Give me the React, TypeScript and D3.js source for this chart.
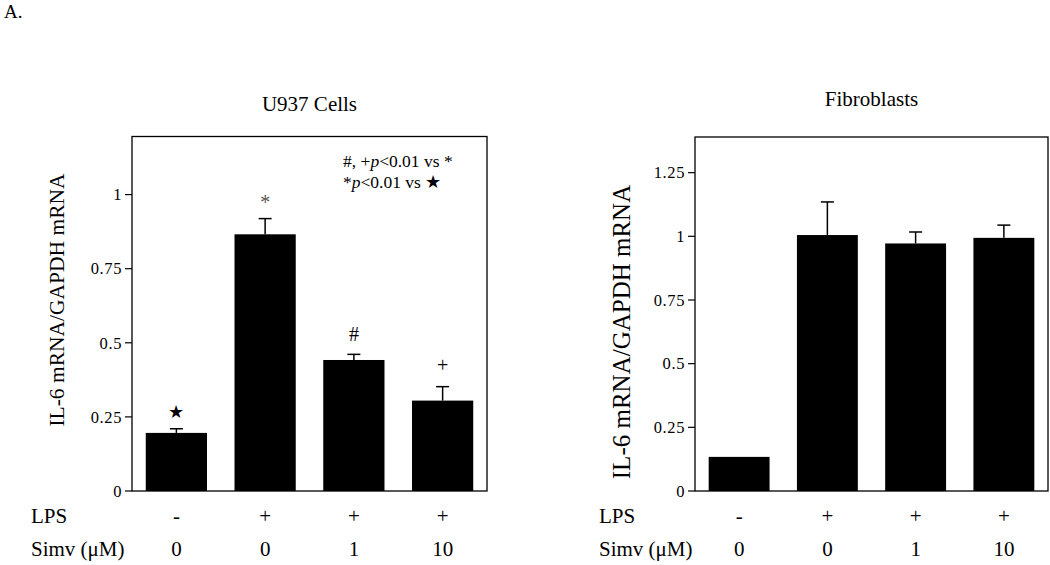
import React from "react";
import * as d3 from "d3";

const groups = ["g1", "g2", "g3", "g4"];
const lpsLabels = ["-", "+", "+", "+"];
const simvLabels = ["0", "0", "1", "10"];

const u937Values = [0.196, 0.866, 0.442, 0.305];
const u937ErrTop = [0.21, 0.919, 0.461, 0.352];
const u937Marks = ["★", "*", "#", "+"];
const u937Ticks = [0, 0.25, 0.5, 0.75, 1];

const fibroValues = [0.134, 1.005, 0.972, 0.994];
const fibroErrTop = [0.134, 1.135, 1.017, 1.044];
const fibroTicks = [0, 0.25, 0.5, 0.75, 1, 1.25];

const FONT = "\"Liberation Serif\", \"Times New Roman\", \"DejaVu Serif\", serif";
const fs = (size: number, extra: React.CSSProperties = {}): React.CSSProperties => ({ fontFamily: FONT, fontSize: size, ...extra });

type PanelProps = {
  title: string;
  titleY: number;
  x0: number;
  x1: number;
  yTop: number;
  yBottom: number;
  yMax: number;
  values: number[];
  errTop: number[];
  ticks: number[];
  marks?: string[];
  ylabel: string;
  ylabelX: number;
  ylabelY: number;
  ylabelSize: number;
  rowLabelX: number;
};

function Panel(p: PanelProps) {
  const x = d3.scaleBand<string>().domain(groups).range([p.x0, p.x1]).paddingInner(0.31).paddingOuter(0.155);
  const y = d3.scaleLinear().domain([0, p.yMax]).range([p.yBottom, p.yTop]);
  const fmt = (v: number) => (v === 0 ? "0" : String(v));
  const bw = x.bandwidth();
  const markOffsets = [17, 17, 20, 22];
  return (
    <g>
      <text x={(p.x0 + p.x1) / 2} y={p.titleY} textAnchor="middle" style={fs(21)}>
        {p.title}
      </text>
      {groups.map((g, i) => (
        <rect key={g} x={x(g)} y={y(p.values[i])} width={bw} height={y(0) - y(p.values[i])} fill="#000" />
      ))}
      {groups.map((g, i) =>
        p.errTop[i] > p.values[i] + 0.001 ? (
          <g key={"e" + g} stroke="#000" strokeWidth={1.5}>
            <line x1={x(g)! + bw / 2} x2={x(g)! + bw / 2} y1={y(p.values[i])} y2={y(p.errTop[i])} />
            <line x1={x(g)! + bw / 2 - 6.5} x2={x(g)! + bw / 2 + 6.5} y1={y(p.errTop[i])} y2={y(p.errTop[i])} />
          </g>
        ) : null
      )}
      {p.marks &&
        groups.map((g, i) => (
          <text
            key={"m" + g}
            x={x(g)! + bw / 2}
            y={y(p.errTop[i]) - markOffsets[i]}
            textAnchor="middle"
            dominantBaseline="central"
            style={fs(i === 0 ? 18 : 20)}
            fill={i === 1 ? "#555" : "#000"}
          >
            {p.marks![i]}
          </text>
        ))}
      <rect x={p.x0} y={p.yTop} width={p.x1 - p.x0} height={p.yBottom - p.yTop} fill="none" stroke="#000" strokeWidth={1.3} />
      {p.ticks.map((t) => (
        <g key={"t" + t}>
          <line x1={p.x0 - 7} x2={p.x0} y1={y(t)} y2={y(t)} stroke="#000" strokeWidth={1.2} />
          <text x={p.x0 - 10} y={y(t)} dy="0.35em" textAnchor="end" style={fs(16.5, { letterSpacing: 0.6 })}>
            {fmt(t)}
          </text>
        </g>
      ))}
      <text
        transform={`translate(${p.ylabelX},${p.ylabelY}) rotate(-90)`}
        textAnchor="middle"
        dominantBaseline="central"
        style={fs(p.ylabelSize)}
      >
        {p.ylabel}
      </text>
      <text x={p.rowLabelX} y={523} style={fs(21)}>LPS</text>
      <text x={p.rowLabelX} y={556} style={fs(21)}>Simv (μM)</text>
      {groups.map((g, i) => (
        <g key={"r" + g}>
          <text x={x(g)! + bw / 2} y={523} textAnchor="middle" style={fs(21)}>
            {lpsLabels[i]}
          </text>
          <text x={x(g)! + bw / 2} y={556} textAnchor="middle" style={fs(21)}>
            {simvLabels[i]}
          </text>
        </g>
      ))}
    </g>
  );
}

export default function App() {
  return (
    <svg width={1050} height={565} style={{ position: "absolute", left: 0, top: 0, background: "#fff" }}>
      <rect x={0} y={0} width={1050} height={565} fill="#fff" />
      <text x={4} y={18} style={fs(19)}>A.</text>
      <Panel
        title="U937 Cells"
        titleY={111}
        x0={132}
        x1={487}
        yTop={136.5}
        yBottom={491}
        yMax={1.196}
        values={u937Values}
        errTop={u937ErrTop}
        ticks={u937Ticks}
        marks={u937Marks}
        ylabel="IL-6 mRNA/GAPDH mRNA"
        ylabelX={57}
        ylabelY={300}
        ylabelSize={21.5}
        rowLabelX={31}
      />
      <text x={343} y={167} style={fs(17.5)}>
        #, +<tspan style={{ fontStyle: "italic" }}>p</tspan>&lt;0.01 vs *
      </text>
      <text x={343} y={188} style={fs(17.5)}>
        *<tspan style={{ fontStyle: "italic" }}>p</tspan>&lt;0.01 vs ★
      </text>
      <Panel
        title="Fibroblasts"
        titleY={106}
        x0={695}
        x1={1048}
        yTop={137}
        yBottom={491}
        yMax={1.39}
        values={fibroValues}
        errTop={fibroErrTop}
        ticks={fibroTicks}
        ylabel="IL-6 mRNA/GAPDH mRNA"
        ylabelX={621}
        ylabelY={332}
        ylabelSize={25}
        rowLabelX={599}
      />
    </svg>
  );
}
